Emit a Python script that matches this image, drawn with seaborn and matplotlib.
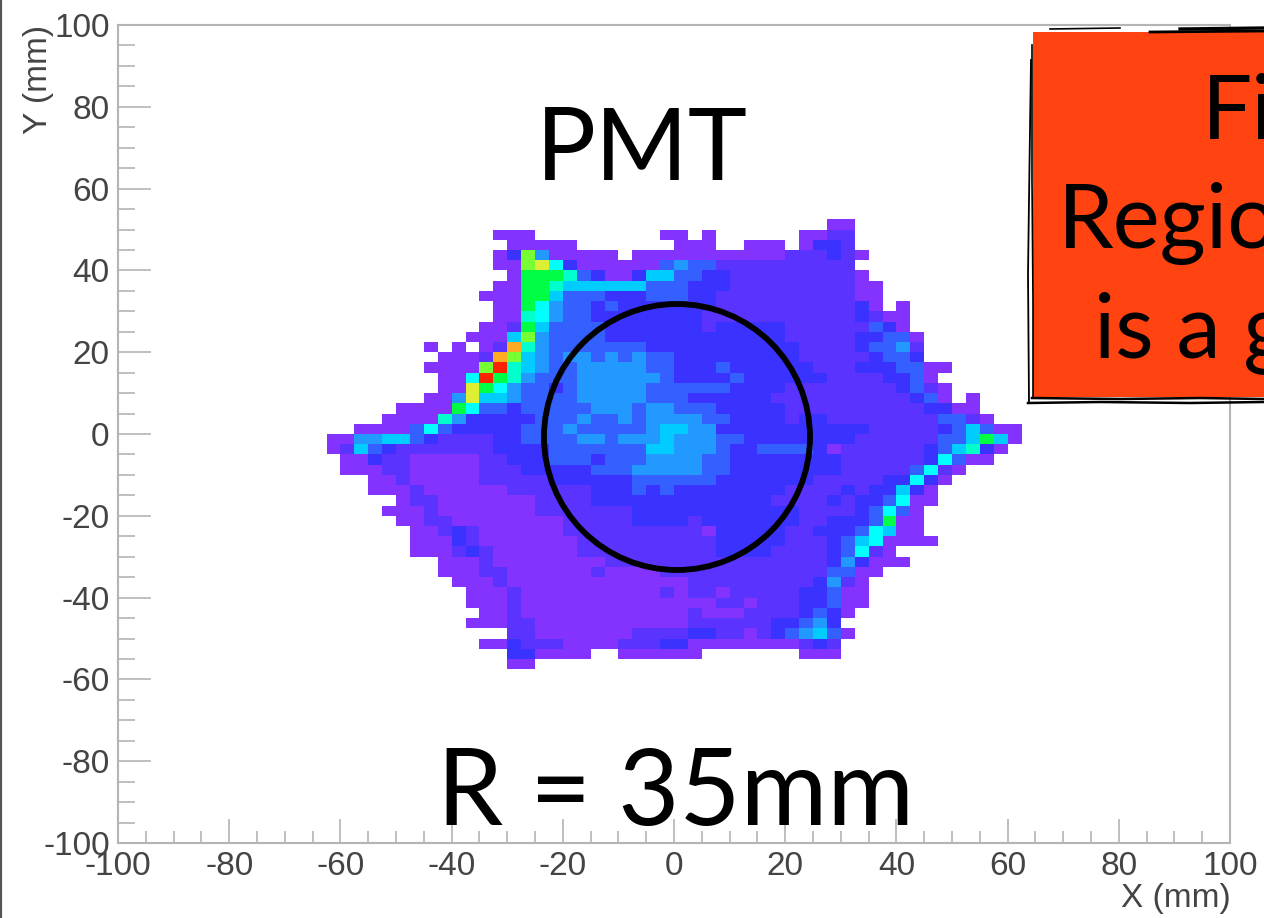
from matplotlib.colors import ListedColormap
from matplotlib.lines import Line2D
from matplotlib.patches import Ellipse, Rectangle
from matplotlib.ticker import FixedLocator
import matplotlib.pyplot as plt
import numpy as np
import seaborn as sns

# X/Y binning: 80 x 80 bins of 2.5 mm, tokens are "first column:levels" for each row
N_BINS = 80
FIRST_ROW = 19
ROWS = [
    "51:aa",
    "27:aaa 39:aa 42:a 49:aa 51:bb",
    "28:aaaaa 40:aaa 45:aaa 49:a 50:cc 52:b",
    "27:a 28:c 29:j 30:e 31:aaaaa 37:aaa 40:aaaaaaaa 48:bbb 51:c 52:b 53:a",
    "27:aa 29:j 30:k 31:g 32:c 33:aaaaaa 39:d 40:e 41:dd 43:bbbbbbbbbb",
    "28:a 29:iii 32:h 33:d 34:c 35:aa 37:c 38:ff 40:dd 42:cc 44:bbbbbbbbb 53:a",
    "27:aa 29:ii 31:h 32:ffffff 38:ddd 41:ccc 44:bbbbbbbbb 53:aa",
    "26:aaa 29:ii 31:f 32:ddd 35:ccc 38:ddd 41:cc 43:bbbbbbbbbb 53:aa",
    "27:aa 29:i 30:g 31:e 32:dd 34:c 35:d 36:ccccc 41:cc 43:bbbbbbbbbb 53:c 54:a 56:a",
    "27:aa 29:h 30:g 31:e 32:dd 34:cccccccc 42:b 43:bbbbbbbbbb 53:c 54:b 55:aa",
    "26:aa 28:b 29:i 30:f 31:dddd 35:ccccccc 42:b 43:ccccc 48:bbbbb 53:b 54:d 55:c 56:a",
    "25:aaa 28:f 29:j 30:e 31:dddd 35:ccccc 40:cccccccc 48:bbbbb 53:cc 55:dd 57:a",
    "22:a 24:a 26:a 27:b 28:l 29:h 30:e 31:ddddddd 38:cc 40:ccccccccc 49:bbbb 53:c 54:dd 56:e 57:b",
    "23:aaa 26:b 27:l 28:j 29:f 30:e 31:d 32:ee 34:d 35:e 36:d 37:e 38:dd 40:ccccccccc 49:bbbbb 54:c 55:dd 57:c",
    "22:aaaa 26:j 27:m 28:h 29:f 30:e 31:dd 33:eeeee 38:dd 40:ccc 43:d 44:cccccc 50:bbb 53:ccc 56:dd 58:aa",
    "23:aa 25:g 26:m 27:i 28:h 29:e 30:ddd 33:eeeeee 39:d 40:cccc 44:d 45:cccccc 51:bbbb 55:cc 57:d 58:a",
    "23:aa 25:k 26:i 27:g 28:e 29:dd 31:c 32:d 33:eeeee 38:dd 40:dddd 44:cccc 48:bbbbbbbb 56:c 57:d 58:b 59:a",
    "22:aa 24:e 25:k 26:ff 28:e 29:dddd 33:eeeee 38:dd 40:d 41:cccccc 47:bbbbbbbbbb 57:c 58:d 59:a 61:a",
    "20:aaaa 24:i 25:g 26:dd 28:c 29:ddddd 34:eee 37:d 38:ee 40:ddd 43:ccccc 48:bbbbbbbbbb 58:cc 60:aa",
    "19:aaaa 23:h 24:e 25:ccccc 30:ddd 33:e 34:dd 36:e 37:d 38:ee 40:ee 42:dd 44:cccc 48:b 49:cc 51:bbbbbbbb 59:dd 61:b 62:a",
    "17:aaaa 21:d 22:g 23:d 24:ccccc 29:ddd 32:e 33:d 34:dddd 38:e 39:ff 41:ee 43:ccccccccccc 54:bbbbb 59:c 60:d 61:f 62:d 63:aa",
    "15:aa 17:ee 19:ff 21:d 22:c 23:bbbb 27:cc 29:dddd 33:ee 35:d 36:eee 39:f 40:eee 43:dd 45:cccccccc 53:bbbbbb 59:dd 61:f 62:i 63:f 64:a",
    "15:a 16:b 17:f 18:d 19:c 20:bbbbbbb 27:cccc 31:ddddddd 38:ff 40:eee 43:d 44:cc 46:dddd 50:c 51:a 52:bbbbbb 58:c 59:d 60:f 61:h 62:c 63:a",
    "16:aa 18:c 19:bb 21:aaaaa 26:bb 28:ccc 31:ddd 34:c 35:ddd 38:eeee 42:dd 44:cccccccc 52:bbbbbb 58:c 59:g 60:d 61:aa",
    "16:aaa 19:bb 21:aaaaa 26:bbb 29:ccccc 34:ddd 37:eeeee 42:dd 44:cccccccc 52:bbbbb 57:d 58:g 59:b 60:a",
    "18:aa 20:b 21:aaaaa 26:bbbbb 31:cccccc 37:dddddd 43:ccccccc 50:bbbbb 55:cc 57:g 58:c 59:a",
    "18:aaa 21:b 22:aaaaaa 28:bbbbbb 34:ccc 37:d 38:c 39:d 40:cccccccc 48:bbbb 52:c 53:b 54:cc 56:f 57:c 58:a",
    "20:a 21:bb 23:aaaaaaa 30:bbbb 34:ccccccccccccc 47:bbbb 51:c 52:b 53:cc 55:d 56:g 57:aa",
    "19:aaa 22:b 23:aaaaaaa 30:bbbbbbb 37:cccccccccccc 49:bbbb 53:c 54:d 55:g 56:d 57:a",
    "20:aa 22:bb 24:aaaaaaaa 32:bbbbb 37:cccc 41:b 42:ccccccc 49:bb 51:ccc 54:d 55:i 56:aa",
    "21:aa 23:b 24:c 25:b 26:aaaaaa 32:bbbbbbbbbb 42:a 43:ccccc 48:bb 50:ccc 53:d 54:g 55:f 56:aa",
    "21:aaa 24:c 25:b 26:aaaaaaa 33:bbbbbbbbbb 43:ccccc 48:bbb 51:c 52:d 53:f 54:g 55:aaaa",
    "21:aaa 24:b 25:c 26:b 27:aaaaaa 33:bbbbbbbbbb 43:cccc 47:bbbb 51:c 52:d 53:g 54:b 55:a",
    "23:aaa 26:b 27:aaaaaaaa 35:bbbbbbbbbbbbbbbb 51:c 52:e 53:c 54:aaa",
    "23:aaa 26:bb 28:aaaaaa 34:b 35:aaaa 39:bbbbbbbbbbbb 51:dd 53:aa",
    "24:aaa 27:b 28:aaaaaaaaaaaaa 41:bbbbbbbbb 50:c 51:e 52:b 53:a",
    "25:aaa 28:b 29:aaaaaaaaaa 39:b 40:a 41:bb 43:a 44:bbbbb 49:cc 51:d 52:aa",
    "25:aaa 28:b 29:aaaaaaaaaaaaaa 43:bb 45:a 46:bbb 49:cc 51:d 52:aa",
    "26:aa 28:b 29:aaaaaaaaaaaa 41:b 42:aaa 45:bbbb 49:c 50:d 51:c 52:a",
    "25:aaa 28:bb 30:aaaaaaaaaaa 41:bbbbbb 47:cc 49:d 50:e 51:c",
    "28:bb 30:aaaaaaa 37:bbbb 41:cc 43:bb 45:a 46:b 47:c 48:d 49:e 50:f 51:d 52:a",
    "26:aa 28:c 29:bbb 32:aaaa 36:bbb 39:cc 41:aaaaaaaa 49:b 50:c 51:b",
    "28:cc 30:aaaa 36:aaaaaa 49:aaa",
    "28:aa",
]
LEVEL_NAMES = "abcdefghijklm"
LEVEL_COLORS = ['#8433FF', '#5A33FF', '#3A33FF', '#3360FF', '#2299FF', '#00CCFF', '#00FFFF',
                '#00FFCC', '#00FF44', '#77FF33', '#DDEE33', '#FFAA22', '#FF2200']

X_TICKS = [-100, -80, -60, -40, -20, 0, 20, 40, 60, 80, 100]
Y_TICKS = [100, 80, 60, 40, 20, 0, -20, -40, -60, -80, -100]
MINOR_TICKS = [v for v in range(-100, 101, 5) if v % 20 != 0]

W, H = 1264, 918
GRAY = '#b4b4b4'
TEXT_GRAY = '#444444'

plt.rcParams['font.family'] = ['Liberation Sans', 'DejaVu Sans']


def build_grid():
    grid = np.full((N_BINS, N_BINS), np.nan)
    for r, row in enumerate(ROWS):
        for token in row.split():
            start, levels = token.split(':')
            for i, ch in enumerate(levels):
                grid[FIRST_ROW + r, int(start) + i] = LEVEL_NAMES.index(ch)
    return grid


def fx(x):
    return x / W


def fy(y):
    return 1 - y / H


grid = build_grid()

fig = plt.figure(figsize=(W / 100, H / 100), dpi=100, facecolor='white')
ax = fig.add_axes([fx(118), fy(843), (1230 - 118) / W, (843 - 25) / H])
sns.heatmap(grid, mask=np.isnan(grid), cmap=ListedColormap(LEVEL_COLORS), vmin=-0.5, vmax=12.5,
            cbar=False, xticklabels=False, yticklabels=False, square=False, ax=ax)

for spine in ax.spines.values():
    spine.set_visible(True)
    spine.set_color(GRAY)
    spine.set_linewidth(1.5)

ax.xaxis.set_major_locator(FixedLocator([(v + 100) / 2.5 for v in X_TICKS]))
ax.yaxis.set_major_locator(FixedLocator([(100 - v) / 2.5 for v in Y_TICKS]))
ax.xaxis.set_minor_locator(FixedLocator([(v + 100) / 2.5 for v in MINOR_TICKS]))
ax.yaxis.set_minor_locator(FixedLocator([(100 - v) / 2.5 for v in MINOR_TICKS]))
ax.set_xticklabels([str(v) for v in X_TICKS], fontsize=24, color=TEXT_GRAY)
ax.set_yticklabels([str(v) for v in Y_TICKS], fontsize=24, color=TEXT_GRAY, rotation=0)
ax.tick_params(axis='x', which='major', direction='in', length=17, width=1.2, color=GRAY, pad=6)
ax.tick_params(axis='x', which='minor', direction='in', length=9, width=1.2, color=GRAY)
ax.tick_params(axis='y', which='major', direction='in', length=24, width=1.2, color=GRAY, pad=6)
ax.tick_params(axis='y', which='minor', direction='in', length=12, width=1.2, color=GRAY)

fig.text(fx(1231), fy(898), 'X (mm)', ha='right', va='center', fontsize=24, color=TEXT_GRAY)
fig.text(fx(38), fy(25), 'Y (mm)', ha='center', va='top', rotation=90, fontsize=24, color=TEXT_GRAY)

# fiducial circle, round on screen so it gets different widths in bin units
ax.add_patch(Ellipse(((677 - 118) / 13.9, (437 - 25) / 10.225), 2 * 133 / 13.9, 2 * 133 / 10.225,
                     fill=False, edgecolor='black', linewidth=4.2, zorder=5))

fig.text(fx(642), fy(180), 'PMT', ha='center', va='baseline', fontsize=72, family='Lato', color='black')
fig.text(fx(676), fy(825), 'R = 35mm', ha='center', va='baseline', fontsize=76, family='Lato', color='black')

# sticky note, hand drawn edge
fig.add_artist(Rectangle((fx(1033), fy(397)), (W - 1033) / W, (397 - 32) / H, transform=fig.transFigure,
                         facecolor='#FF4411', edgecolor='none', zorder=10))
sketch = [
    ([1031, 1029, 1028, 1029], [60, 200, 275, 403], 1.3),
    ([1032, 1032, 1033, 1033], [45, 180, 300, 398], 1.2),
    ([1028, 1100, 1190, 1264], [403, 402, 403, 402], 1.8),
    ([1032, 1120, 1200, 1264], [398, 399, 398, 399], 1.8),
    ([1050, 1120], [29, 28], 1.2),
    ([1150, 1264], [32, 31], 2.0),
    ([1180, 1264], [29, 28], 2.4),
]
for xs, ys, lw in sketch:
    fig.add_artist(Line2D([fx(v) for v in xs], [fy(v) for v in ys], color='black', linewidth=lw, zorder=11))

for x, y, label in [(1202, 139, 'Fi'), (1058, 248, 'Regio'), (1094, 358, 'is a g')]:
    fig.text(fx(x), fy(y), label, ha='left', va='baseline', fontsize=64, family='Lato', color='black', zorder=12)

fig.add_artist(Line2D([fx(1), fx(1)], [0, 1], color='#555555', linewidth=1.6))

fig.savefig('out.png', dpi=100, facecolor='white')
